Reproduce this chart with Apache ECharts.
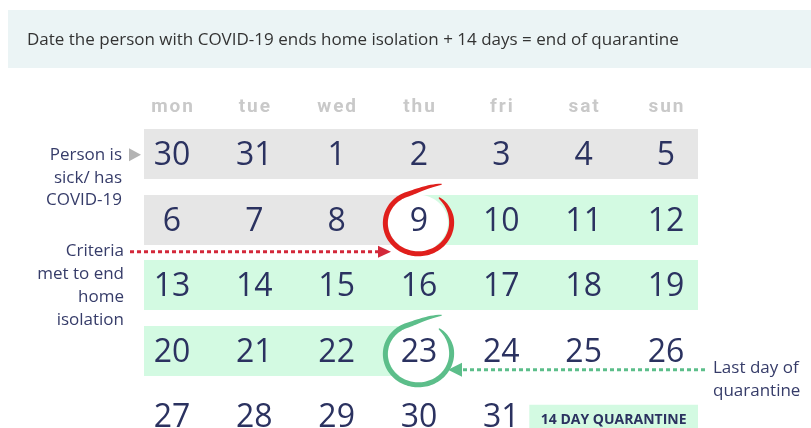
<!DOCTYPE html>
<html><head><meta charset="utf-8">
<script src="https://cdn.jsdelivr.net/npm/echarts@6/dist/echarts.min.js"></script>
<style>html,body{margin:0;padding:0;background:#fff}#c{width:811px;height:428px}</style>
</head><body><div id="c"></div>
<script>
// ---- data ----
const weekdays = ['mon','tue','wed','thu','fri','sat','sun'];
const weekRows = ['w1','w2','w3','w4','w5'];
const weeks = [
  [30,31,1,2,3,4,5],
  [6,7,8,9,10,11,12],
  [13,14,15,16,17,18,19],
  [20,21,22,23,24,25,26],
  [27,28,29,30,31,null,null]
];
// s = sick / home isolation, e = criteria met (end of isolation), q = quarantine, l = last day of quarantine, n = none
const status = [
  ['s','s','s','s','s','s','s'],
  ['s','s','s','e','q','q','q'],
  ['q','q','q','q','q','q','q'],
  ['q','q','q','l','n','n','n'],
  ['n','n','n','n','n','n','n']
];
const circled = [[3,1,0],[3,3,1]];
const circleColors = ['#e01f1c','#5cbe8a'];
const titleText = 'Date the person with COVID-19 ends home isolation + 14 days = end of quarantine';
const sickLabel = ['Person is','sick/ has','COVID-19'];
const criteriaLabel = ['Criteria','met to end','home','isolation'];
const lastLabel = ['Last day of','quarantine'];
const legendText = '14 DAY QUARANTINE';

// ---- build ----
const cells = [];
weeks.forEach((w,r)=>w.forEach((d,c)=>cells.push([c,r,d==null?0:d])));
const numberCells = [];
weeks.forEach((w,r)=>w.forEach((d,c)=>{ if(d!=null) numberCells.push([c,r,d]); }));

const GRAY='#e6e6e6', GREEN='#d3fae2', NAVY='#2b3260', LABEL='#363c69';
const FONT='"Open Sans", "Noto Sans", sans-serif';

function bandItem(params, api){
  const col=api.value(0), row=api.value(1);
  const st=status[row][col];
  if(st==='n') return null;
  const c=api.coord([col,row]);
  const sz=api.size([1,1]);
  let x0=c[0]-sz[0]/2, x1=c[0]+sz[0]/2;
  if(col===0) x0=c[0]-28;
  if(col===6) x1=c[0]+32;
  const y0=Math.round(c[1]-25), h=50;
  const rect=(a,b,fill)=>({type:'rect',shape:{x:Math.round(a),y:y0,width:Math.round(b)-Math.round(a),height:h},style:{fill:fill}});
  const ch=[];
  if(st==='s') ch.push(rect(x0,x1,GRAY));
  else if(st==='q') ch.push(rect(x0,x1,GREEN));
  else if(st==='e'){ ch.push(rect(x0,c[0],GRAY)); ch.push(rect(c[0],x1,GREEN)); }
  else if(st==='l'){ ch.push(rect(x0,c[0],GREEN)); }
  return {type:'group',children:ch};
}

function numberItem(params, api){
  const c=api.coord([api.value(0),api.value(1)]);
  return {type:'text',x:c[0],y:c[1]+2,style:{text:String(api.value(2)),fill:NAVY,font:'32px '+FONT,align:'center',verticalAlign:'middle'}};
}

function spiralPolygon(cx,cy,rx,ry){
  const N=120, pts=[];
  const a0=60*Math.PI/180, sweep=352*Math.PI/180;
  for(let i=0;i<=N;i++){
    const t=i/N, a=a0+sweep*t;
    let k=1;
    if(t<0.14) k=1+0.48*Math.pow(1-t/0.14,2);
    k*=1+0.06*t;
    pts.push([cx+rx*k*Math.cos(a), cy-ry*k*Math.sin(a), t]);
  }
  const left=[], right=[];
  for(let i=0;i<=N;i++){
    const p=pts[Math.max(0,i-1)], q=pts[Math.min(N,i+1)];
    let dx=q[0]-p[0], dy=q[1]-p[1]; const L=Math.hypot(dx,dy)||1; dx/=L; dy/=L;
    const t=pts[i][2];
    const hw=0.5+2.0*Math.pow(Math.min(1,t/0.12,(1-t)/0.12),0.6);
    left.push([pts[i][0]-dy*hw, pts[i][1]+dx*hw]);
    right.push([pts[i][0]+dy*hw, pts[i][1]-dx*hw]);
  }
  return left.concat(right.reverse());
}

function circleItem(params, api){
  const c=api.coord([api.value(0),api.value(1)]);
  const color=circleColors[api.value(2)];
  const cx=c[0]-1, cy=c[1]+3;
  return {type:'group',children:[
    {type:'ellipse',shape:{cx:cx,cy:cy,rx:30,ry:28},style:{fill:'#ffffff'}},
    {type:'polygon',shape:{points:spiralPolygon(cx,cy,32,30)},style:{fill:color}}
  ]};
}

function annotationItem(params, api){
  const mon0=api.coord([0,0]);
  const thu1=api.coord([3,1]);
  const thu3=api.coord([3,3]);
  const fri4=api.coord([4,4]);
  const sun3=api.coord([6,3]);
  const sun4=api.coord([6,4]);
  const ch=[];
  const txt=(s,x,y,align)=>({type:'text',x:x,y:y,style:{text:s,fill:LABEL,font:'17px '+FONT,align:align,verticalAlign:'middle'}});
  // sick label + grey pointer
  sickLabel.forEach((s,i)=>ch.push(txt(s,mon0[0]-50,mon0[1]+1+i*22.5,'right')));
  ch.push({type:'polygon',shape:{points:[[mon0[0]-43,mon0[1]-6],[mon0[0]-31,mon0[1]+0.5],[mon0[0]-43,mon0[1]+7]]},style:{fill:'#b3b3b3'}});
  // criteria label + red dotted arrow
  criteriaLabel.forEach((s,i)=>ch.push(txt(s,mon0[0]-48,thu1[1]+31+i*23,'right')));
  const ry=thu1[1]+32;
  ch.push({type:'line',shape:{x1:mon0[0]-42,y1:ry,x2:thu1[0]-41,y2:ry},style:{stroke:'#d3283a',lineWidth:3,lineDash:[4,3]}});
  ch.push({type:'polygon',shape:{points:[[thu1[0]-41,ry-6],[thu1[0]-28,ry],[thu1[0]-41,ry+6]]},style:{fill:'#d3283a'}});
  // last day label + green dotted arrow
  const gy=thu3[1]+19;
  ch.push({type:'line',shape:{x1:thu3[0]+44,y1:gy,x2:sun3[0]+42,y2:gy},style:{stroke:'#5cbe8a',lineWidth:3,lineDash:[4,3]}});
  ch.push({type:'polygon',shape:{points:[[thu3[0]+43,gy-7],[thu3[0]+29,gy],[thu3[0]+43,gy+7]]},style:{fill:'#5cbe8a'}});
  lastLabel.forEach((s,i)=>ch.push(txt(s,sun3[0]+47,thu3[1]+17+i*23,'left')));
  // legend box
  const bx0=fri4[0]+28, bx1=sun4[0]+32;
  ch.push({type:'rect',shape:{x:bx0,y:sun4[1]-11.5,width:bx1-bx0,height:30},style:{fill:GREEN}});
  ch.push({type:'text',x:(bx0+bx1)/2,y:sun4[1]+4,style:{text:legendText,fill:NAVY,font:'bold 14px '+FONT,align:'center',verticalAlign:'middle'}});
  return {type:'group',children:ch};
}

const chart=echarts.init(document.getElementById('c'));
chart.setOption({
  animation:false,
  backgroundColor:'#ffffff',
  graphic:[
    {type:'rect',left:8,top:10,shape:{width:803,height:58},style:{fill:'#ebf4f5'},z:0},
    {type:'text',left:27,top:32,style:{text:titleText,fill:'#333333',font:'17px '+FONT},z:1}
  ],
  grid:{left:130.85,top:121.5,width:576.3,height:327.5,outerBoundsMode:'none',containLabel:false},
  xAxis:{type:'category',data:weekdays.map(d=>d.split('').join('\u200A')),position:'top',
    axisLine:{show:false},axisTick:{show:false},splitLine:{show:false},
    axisLabel:{color:'#c9c9c9',fontSize:19,fontFamily:'Roboto',fontWeight:'bold',margin:4.5}},
  yAxis:{type:'category',data:weekRows,inverse:true,show:false},
  series:[
    {type:'custom',name:'bands',data:cells,renderItem:bandItem,z:1,silent:true},
    {type:'custom',name:'circles',data:circled,renderItem:circleItem,z:2,silent:true},
    {type:'custom',name:'days',data:numberCells,renderItem:numberItem,z:3,silent:true,clip:false},
    {type:'custom',name:'notes',data:[[3,1]],renderItem:annotationItem,z:4,silent:true,clip:false}
  ]
});
</script></body></html>
